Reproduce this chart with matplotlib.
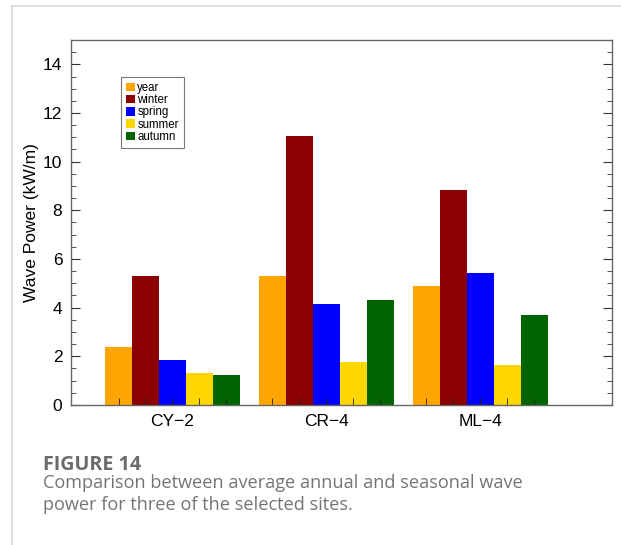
import matplotlib
matplotlib.use('Agg')
import matplotlib.pyplot as plt
import numpy as np
from matplotlib.lines import Line2D
from matplotlib.ticker import MultipleLocator, FixedLocator

sites = ['CY\u22122', 'CR\u22124', 'ML\u22124']
seasons = ['year', 'winter', 'spring', 'summer', 'autumn']
colors = ['#FFA500', '#8B0000', '#0000FF', '#FFD700', '#006400']
year = [2.40, 5.30, 4.91]
winter = [5.32, 11.05, 8.83]
spring = [1.86, 4.14, 5.44]
summer = [1.30, 1.76, 1.66]
autumn = [1.22, 4.32, 3.69]

plt.rcParams['font.family'] = ['Liberation Sans', 'DejaVu Sans']

fig = plt.figure(figsize=(6.21, 5.45), dpi=100)
ax = fig.add_axes([0.1138, 0.2569, 0.9855 - 0.1138, 0.9266 - 0.2569])

x = np.arange(len(sites))
w = 0.175
series = [year, winter, spring, summer, autumn]
centers = []
for i, (vals, name, c) in enumerate(zip(series, seasons, colors)):
    pos = x + (i - 2) * w
    centers.extend(pos)
    ax.bar(pos, vals, width=w, color=c, label=name, linewidth=0)

ax.set_xlim(-0.661, 2.856)
ax.set_ylim(0, 15)
ax.set_xticks(x)
ax.set_xticklabels(sites, fontsize=12.5)
ax.xaxis.set_minor_locator(FixedLocator(centers))
ax.yaxis.set_major_locator(MultipleLocator(2))
ax.yaxis.set_minor_locator(MultipleLocator(0.5))
ax.tick_params(axis='y', which='both', direction='in', left=True, right=True,
               labelsize=12.5, color='#333333', pad=6)
ax.tick_params(axis='y', which='major', length=6.5)
ax.tick_params(axis='y', which='minor', length=3.5)
ax.tick_params(axis='x', which='both', direction='in', bottom=True, top=False,
               color='#222222', pad=6.5)
ax.tick_params(axis='x', which='major', length=5)
ax.tick_params(axis='x', which='minor', length=5)
for s in ax.spines.values():
    s.set_color('#666666')
    s.set_linewidth(1.0)

ax.set_ylabel('Wave Power (kW/m)', fontsize=12.5, labelpad=3)

leg = ax.legend(loc='upper left', bbox_to_anchor=(0.0925, 0.8994), fontsize=8.3,
                frameon=True, fancybox=False, edgecolor='#555555',
                handlelength=0.75, handleheight=0.75, handletextpad=0.25,
                labelspacing=0.02, borderpad=0.45, borderaxespad=0)
leg.get_frame().set_linewidth(0.8)

# page frame lines
fig.add_artist(Line2D([12 / 621, 1], [1 - 5.7 / 545] * 2, color='#d9d9d9', lw=1.2))
fig.add_artist(Line2D([11.7 / 621] * 2, [0, 1 - 5.7 / 545], color='#d9d9d9', lw=1.2))

cap_font = ['Open Sans', 'DejaVu Sans']
fig.text(43.3 / 621, 1 - 470 / 545, 'FIGURE 14', fontsize=14.2, fontweight='bold',
         color='#6b6b6b', family=cap_font, va='baseline')
fig.text(43.3 / 621, 1 - 488.5 / 545,
         'Comparison between average annual and seasonal wave',
         fontsize=13.1, color='#747474', family=cap_font, va='baseline')
fig.text(43.3 / 621, 1 - 510 / 545, 'power for three of the selected sites.',
         fontsize=13.1, color='#747474', family=cap_font, va='baseline')

fig.savefig('out.png', dpi=100)
